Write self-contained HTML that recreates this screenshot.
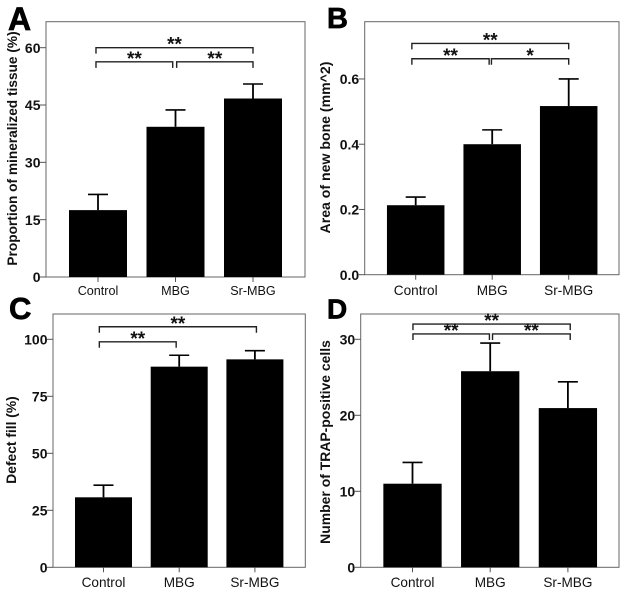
<!DOCTYPE html>
<html lang="en">
<head>
<meta charset="utf-8">
<title>Bone regeneration bar charts</title>
<style>
html,body{margin:0;padding:0;background:#fff;}
body{width:626px;height:593px;overflow:hidden;}
svg{display:block;filter:blur(0.35px);}
text{font-family:"Liberation Sans",Arial,sans-serif;fill:#111;}
</style>
</head>
<body>
<svg id="figure" xmlns="http://www.w3.org/2000/svg" width="626" height="593" viewBox="0 0 626 593"></svg>
<script>
const categories = ['Control', 'MBG', 'Sr-MBG'];

const aValues = [17.5, 39.3, 46.7];
const aErrorTops = [21.6, 43.7, 50.5];
const aTicks = [0, 15, 30, 45, 60];
const aTickLabels = ['0', '15', '30', '45', '60'];
const aBracketLevels = [60, 56.3, 56.3];
const aBracketLabels = ['**', '**', '**'];

const bValues = [0.213, 0.40, 0.517];
const bErrorTops = [0.238, 0.444, 0.60];
const bTicks = [0, 0.2, 0.4, 0.6];
const bTickLabels = ['0.0', '0.2', '0.4', '0.6'];
const bBracketLevels = [0.709, 0.662, 0.662];
const bBracketLabels = ['**', '**', '*'];

const cValues = [30.7, 88, 91.2];
const cErrorTops = [36, 93, 95];
const cTicks = [0, 25, 50, 75, 100];
const cTickLabels = ['0', '25', '50', '75', '100'];
const cBracketLevels = [105.5, 98.9];
const cBracketLabels = ['**', '**'];

const dValues = [11, 25.8, 20.95];
const dErrorTops = [13.8, 29.5, 24.4];
const dTicks = [0, 10, 20, 30];
const dTickLabels = ['0', '10', '20', '30'];
const dBracketLevels = [32, 30.7, 30.7];
const dBracketLabels = ['**', '**', '**'];

const panels = [
  {id:'a', letter:'A', letterX:8, letterY:30, letterSize:32, left:46, right:305, top:21.7, bottom:277, unit:3.822,
   c0:98, step:77.5, barW:58, title:'Proportion of mineralized tissue (%)', titleX:12, titleY:148.5, titleSize:13.7, catSize:12.6, catY:295,
   values:aValues, errs:aErrorTops, ticks:aTicks, labels:aTickLabels, levels:aBracketLevels, blabels:aBracketLabels,
   spans:[[-0.026,2],[-0.026,0.964],[1.015,2]]},
  {id:'b', letter:'B', letterX:327, letterY:28, letterSize:29, left:364.7, right:619, top:21.7, bottom:274.7, unit:326.2,
   c0:415.7, step:76.5, barW:57.5, title:'Area of new bone (mm^2)', titleX:325, titleY:147.5, titleSize:14.1, catSize:13.6, catY:295,
   values:bValues, errs:bErrorTops, ticks:bTicks, labels:bTickLabels, levels:bBracketLevels, blabels:bBracketLabels,
   spans:[[-0.05,2],[-0.05,0.96],[0.99,2]]},
  {id:'c', letter:'C', letterX:9, letterY:319, letterSize:31, left:53, right:305.3, top:314, bottom:567.3, unit:2.28,
   c0:103.5, step:75.7, barW:57, title:'Defect fill (%)', titleX:11, titleY:440, titleSize:13.8, catSize:13.6, catY:587,
   values:cValues, errs:cErrorTops, ticks:cTicks, labels:cTickLabels, levels:cBracketLevels, blabels:cBracketLabels,
   spans:[[-0.055,2.02],[-0.055,0.96]]},
  {id:'d', letter:'D', letterX:327, letterY:318.5, letterSize:28, left:360.7, right:619, top:314, bottom:567.3, unit:7.6,
   c0:412.5, step:77.7, barW:58.3, title:'Number of TRAP-positive cells', titleX:325, titleY:442, titleSize:13.95, catSize:13.6, catY:587,
   values:dValues, errs:dErrorTops, ticks:dTicks, labels:dTickLabels, levels:dBracketLevels, blabels:dBracketLabels,
   spans:[[0.006,2.03],[0.006,0.99],[1.03,2.03]]}
];

const NS = 'http://www.w3.org/2000/svg';
const figure = document.getElementById('figure');

function makeLine(parent, name, x1, y1, x2, y2, color, width) {
  const el = document.createElementNS(NS, 'line');
  
  
  el.setAttribute('x1', x1);
  el.setAttribute('y1', y1);
  el.setAttribute('x2', x2);
  el.setAttribute('y2', y2);
  el.setAttribute('stroke', color);
  el.setAttribute('stroke-width', width);
  parent.appendChild(el);
  return el;
}

function makeText(parent, name, str, x, y, size, weight, anchor) {
  const el = document.createElementNS(NS, 'text');
  
  
  el.setAttribute('x', x);
  el.setAttribute('y', y);
  el.setAttribute('font-size', size);
  el.setAttribute('font-weight', weight);
  el.setAttribute('text-anchor', anchor);
  el.textContent = str;
  parent.appendChild(el);
  return el;
}

panels.forEach(function (p) {
  const yScale = function (v) { return p.bottom - v * p.unit; };
  const xScale = function (c) { return p.c0 + c * p.step; };

  const g = document.createElementNS(NS, 'g');
  
  
  figure.appendChild(g);

  const letter = makeText(g, 'panel-letter-' + p.id, p.letter, p.letterX, p.letterY, p.letterSize, 'bold', 'start');
  letter.setAttribute('style', 'fill:#000;stroke:#000;stroke-width:0.7px');

  const frame = document.createElementNS(NS, 'rect');
  
  
  frame.setAttribute('x', p.left);
  frame.setAttribute('y', p.top);
  frame.setAttribute('width', p.right - p.left);
  frame.setAttribute('height', p.bottom - p.top);
  frame.setAttribute('fill', 'none');
  frame.setAttribute('stroke', '#666');
  frame.setAttribute('stroke-width', '1');
  g.appendChild(frame);

  p.ticks.forEach(function (t, i) {
    const y = yScale(t);
    makeLine(g, 'y-tick-' + p.id + '-' + i, p.left - 6, y, p.left, y, '#555', 1);
    makeText(g, 'y-tick-label-' + p.id + '-' + i, p.labels[i], p.left - 5.5, y + 5.2, 14, 'bold', 'end');
  });

  categories.forEach(function (name, i) {
    const cx = xScale(i);
    const x0 = cx - p.barW / 2;
    const top = yScale(p.values[i]);

    makeLine(g, 'error-stem-' + p.id + '-' + i, cx, top, cx, yScale(p.errs[i]), '#000', 1.8);
    makeLine(g, 'error-cap-' + p.id + '-' + i, cx - 10, yScale(p.errs[i]), cx + 10, yScale(p.errs[i]), '#000', 1.6);

    const bar = document.createElementNS(NS, 'rect');
    
    
    bar.setAttribute('x', x0);
    bar.setAttribute('y', top);
    bar.setAttribute('width', p.barW);
    bar.setAttribute('height', p.bottom - top);
    bar.setAttribute('fill', '#000');
    g.appendChild(bar);

    makeLine(g, 'x-tick-' + p.id + '-' + i, cx, p.bottom, cx, p.bottom + 5, '#555', 1);
    makeText(g, 'x-tick-label-' + p.id + '-' + i, name, cx, p.catY, p.catSize, 'normal', 'middle');
  });

  p.levels.forEach(function (level, i) {
    const y = yScale(level);
    const xa = xScale(p.spans[i][0]);
    const xb = xScale(p.spans[i][1]);
    const bracket = document.createElementNS(NS, 'path');
    
    
    bracket.setAttribute('d', 'M' + xa + ' ' + (y + 6) + 'V' + y + 'H' + xb + 'V' + (y + 6));
    bracket.setAttribute('fill', 'none');
    bracket.setAttribute('stroke', '#222');
    bracket.setAttribute('stroke-width', '1.4');
    g.appendChild(bracket);
    makeText(g, 'significance-stars-' + p.id + '-' + i, p.blabels[i], (xa + xb) / 2, y + 3, 19, 'bold', 'middle');
  });

  const title = makeText(g, 'y-axis-title-' + p.id, p.title, 0, 0, p.titleSize, 'bold', 'middle');
  title.setAttribute('transform', 'translate(' + (p.titleX + 5) + ' ' + p.titleY + ') rotate(-90)');
});
</script>
</body>
</html>
